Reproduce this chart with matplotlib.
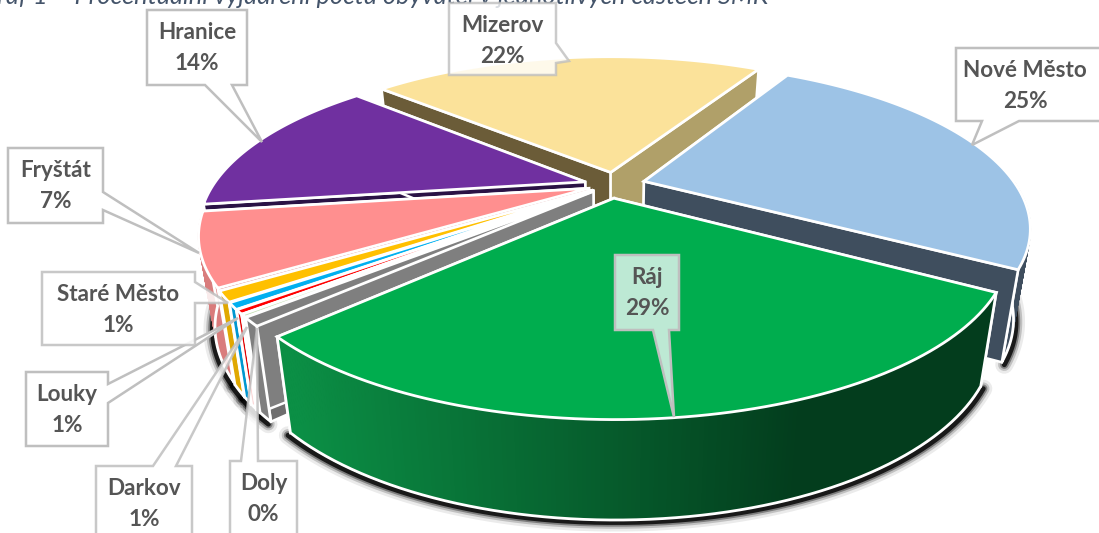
import numpy as np
import matplotlib
matplotlib.use('Agg')
import matplotlib.pyplot as plt
from matplotlib.colors import to_rgb
from matplotlib.patches import Polygon

# Slices, clockwise from the top right. The grey one has no label in the picture.
slice_names = ['Nové Město', 'Ráj', '', 'Doly', 'Darkov', 'Louky', 'Staré Město', 'Fryštát', 'Hranice', 'Mizerov']
slice_values = [25.15, 29.3, 0.8, 0.25, 0.4, 0.6, 1.0, 7.0, 14.0, 21.65]

top_colors = ['#9DC3E6', '#00AD4E', '#7F7F7F', '#C5E0B4', '#FF0000', '#00B0F0', '#FFC000', '#FF8F8F', '#7030A0', '#FBE29A']
wall_colors = ['#3F4E5E', '#0B8F45', '#7F7F7F', '#A5C090', '#E00000', '#0097D0', '#E0A800', '#D97C7C', '#2A1245', '#B0A069']
left_cut = ['#3F4E5E', '#0A7A3A', '#6E6E6E', '#A5C090', '#D00000', '#0090C8', '#D9A300', '#D97C7C', '#2A1245', '#6B5C38']
right_cut = ['#3F4E5E', '#0A7A3A', '#7F7F7F', '#A5C090', '#D00000', '#0090C8', '#D9A300', '#D97C7C', '#2A1245', '#B0A069']
explode = [0.095, 0.085, 0.06, 0.06, 0.06, 0.06, 0.06, 0.06, 0.07, 0.085]

title = 'Graf 1 – Procentuální vyjádření počtu obyvatel v jednotlivých částech SMK'

START_ANGLE = 60.0
CX, CY = 610, 185
R, H, K = 372, 153, 0.27

fig = plt.figure(figsize=(10.99, 5.33), dpi=100)
ax = fig.add_axes([0, 0, 1, 1])
ax.set_xlim(0, 1099)
ax.set_ylim(533, 0)
ax.axis('off')


def project(u, v):
    s = 1 / (1 + K * v)
    return CX + R * u * s, CY - H * v * s


def lower(x, y, v):
    # same point on the underside of the pie
    s = 1 / (1 + K * v)
    return CX + (x - CX) * 0.96, y + 58 + 30 * s


def rim(a0, a1, n, ou, ov):
    t = np.radians(np.linspace(a0, a1, n))
    u, v = ou + np.cos(t), ov + np.sin(t)
    x, y = project(u, v)
    xb, yb = lower(x, y, v)
    return x, y, xb, yb


def apex(ou, ov):
    x, y = project(ou, ov)
    xb, yb = lower(x, y, ov)
    return x, y, xb, yb


fractions = np.array(slice_values) / sum(slice_values)
ends = START_ANGLE - 360 * np.cumsum(fractions)
starts = ends + 360 * fractions

# back slices first, Ráj last
order = [9, 8, 0, 7, 6, 5, 4, 3, 2, 1]

z = 2
for i in order:
    a1, a0 = starts[i], ends[i]
    mid = np.radians((a0 + a1) / 2)
    ou, ov = explode[i] * np.cos(mid), explode[i] * np.sin(mid)
    if slice_names[i] == 'Mizerov':
        ou += 0.015  # sits a bit further right in the picture
    ax_, ay_, bx_, by_ = apex(ou, ov)

    def cut_faces():
        global z
        for ang, col in [(a1, left_cut[i]), (a0, right_cut[i])]:
            x, y, xb, yb = rim(ang, ang, 1, ou, ov)
            ax.add_patch(Polygon([(ax_, ay_), (x[0], y[0]), (xb[0], yb[0]), (bx_, by_)],
                                 fc=col, ec='white', lw=1.8, zorder=z))
            z += 1

    # Nové Město's cut face hides most of its wall, the others are the other way round
    wall_first = slice_names[i] == 'Nové Město'
    if not wall_first:
        cut_faces()

    # outer wall, only the part that faces us
    lo, hi = max(a0, -170), min(a1, 0)
    if hi > lo:
        n = max(int(hi - lo) * 2, 3)
        x, y, xb, yb = rim(lo, hi, n + 1, ou, ov)

        # soft black shadow under the bottom edge
        for lw, alpha in [(13, 0.08), (9, 0.18), (6, 0.35), (3.5, 0.8)]:
            ax.plot(xb + np.sign(xb - CX) * 2.5, yb + 2.5, color='black', lw=lw, alpha=alpha,
                    solid_capstyle='round', zorder=1)

        for j in range(n):
            if slice_names[i] == 'Ráj':
                # wall goes from mid green on the left to very dark on the right
                f = min(1, max(0, (x[j] - 290) / 510))
                col = np.array(to_rgb('#0B8F45')) * (1 - f) + np.array(to_rgb('#033D1D')) * f
            else:
                col = to_rgb(wall_colors[i])
            ax.add_patch(Polygon([(x[j], y[j]), (x[j + 1], y[j + 1]), (xb[j + 1], yb[j + 1]), (xb[j], yb[j])],
                                 fc=col, ec=col, lw=1.0, zorder=z))
        ax.plot(np.r_[x[0], xb, x[-1]], np.r_[y[0], yb, y[-1]], color='white', lw=2, zorder=z)
        z += 1

    if wall_first:
        cut_faces()

    # top face
    x, y, _, _ = rim(a0, a1, 80, ou, ov)
    ax.add_patch(Polygon(np.column_stack([np.r_[ax_, x], np.r_[ay_, y]]),
                         fc=top_colors[i], ec='white', lw=2, zorder=z, joinstyle='miter'))
    z += 1

# title, cut off by the top of the picture
ax.text(-20, 4, title, fontsize=18.3, style='italic', family='Lato', color='#44546A',
        ha='left', va='baseline', clip_on=True, zorder=50)

# callouts: box, pointer base points, tip
label_text = ['Nové Město\n25%', 'Ráj\n29%', 'Doly\n0%', 'Darkov\n1%', 'Louky\n1%',
              'Staré Město\n1%', 'Fryštát\n7%', 'Hranice\n14%', 'Mizerov\n22%']
boxes = [(956, 48, 1105, 121), (615, 255, 679, 330), (230, 461, 297, 540), (96, 466, 192, 540), (26, 372, 108, 446),
         (42, 272, 195, 345), (8, 148, 103, 223), (147, 10, 247, 85), (449, 3, 556, 75)]
pointers = [[(982, 121), (1019, 121), (972, 145)],
            [(653, 330), (669, 330), (674, 417)],
            [(241, 461), (258, 461), (257, 328)],
            [(153, 466), (176, 466), (247, 327)],
            [(108, 384), (108, 403), (238, 318)],
            [(195, 282), (195, 303), (228, 303)],
            [(103, 192), (103, 210), (199, 253)],
            [(205, 85), (232, 85), (262, 142)],
            [(556, 43), (556, 63), (569, 61)]]
box_fill = ['white', '#BDE9D4', 'white', 'white', 'white', 'white', 'white', 'white', 'white']
box_alpha = [1, 1, 0.85, 0.85, 1, 0.85, 1, 1, 0.8]

for txt, (x0, y0, x1, y1), (p, q, tip), fc, al in zip(label_text, boxes, pointers, box_fill, box_alpha):
    if p[0] == x1:
        shape = [(x0, y0), (x1, y0), p, tip, q, (x1, y1), (x0, y1)]
    elif y1 > 533:
        # pointer comes out of the top edge for the low boxes
        shape = [(x0, y1), (x0, y0), p, tip, q, (x1, y0), (x1, y1)]
    else:
        shape = [(x0, y0), (x1, y0), (x1, y1), q, tip, p, (x0, y1)]
    ax.add_patch(Polygon(shape, fc=fc, ec='#BFBFBF', lw=1.8, alpha=al, zorder=60, joinstyle='miter'))
    cx = 1025 if x0 == 956 else (x0 + x1) / 2
    ax.text(cx, y0 + 38, txt, ha='center', va='center', fontsize=16.2, weight='bold',
            family='Lato', color='#555555', linespacing=1.6, zorder=61)

fig.savefig('out.png', dpi=100)
plt.close()
